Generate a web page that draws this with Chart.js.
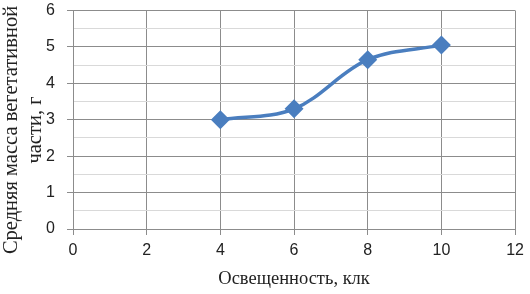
<!DOCTYPE html>
<html>
<head>
<meta charset="utf-8">
<script src="https://cdn.jsdelivr.net/npm/chart.js@4"></script>
<style>
  html, body { margin: 0; padding: 0; background: #fff; }
  #wrap { width: 530px; height: 294px; }
</style>
</head>
<body>
<div id="wrap"><canvas id="chart" width="530" height="294"></canvas></div>
<script>
// данные с графика
const osveshennost = [4, 6, 8, 10];          // клк
const massa = [3.0, 3.3, 4.65, 5.05];         // г
const xTitle = "Освещенность, клк";
// хвостовые пробелы сдвигают подпись чуть вниз, как в оригинале
const yTitle = ["Средняя масса вегетативной\u00a0\u00a0\u00a0\u00a0", "части, г\u00a0\u00a0\u00a0\u00a0"];

const lineColor = '#4a7ebf';
const majorGrid = '#8c8c8c';
const minorGrid = '#d9d9d9';

const ctx = document.getElementById('chart').getContext('2d');
new Chart(ctx, {
  type: 'scatter',
  data: {
    datasets: [{
      data: osveshennost.map((x, i) => ({ x: x, y: massa[i] })),
      showLine: true,
      borderColor: lineColor,
      backgroundColor: lineColor,
      borderWidth: 3.5,
      pointStyle: 'rectRot',
      pointRadius: 7,
      pointHoverRadius: 7,
      tension: 0.35
    }]
  },
  options: {
    responsive: false,
    animation: false,
    layout: { padding: { top: 3, right: 13, left: 0, bottom: 0 } },
    plugins: { legend: { display: false }, tooltip: { enabled: false } },
    scales: {
      x: {
        type: 'linear',
        min: 0, max: 12,
        ticks: { stepSize: 2, color: '#222', font: { family: 'Liberation Sans', size: 16 }, padding: 6 },
        grid: { color: majorGrid, tickLength: 6, tickColor: majorGrid },
        border: { color: majorGrid },
        title: { display: true, text: xTitle, color: '#222', font: { family: 'Liberation Serif', size: 18.5 }, padding: { top: 2 } },
        afterFit: (s) => { s.height = 65; }
      },
      y: {
        min: 0, max: 6,
        ticks: {
          stepSize: 0.5,
          autoSkip: false,
          color: '#222',
          font: { family: 'Liberation Sans', size: 16, lineHeight: 0.5 },
          padding: 4,
          // en-space справа — отодвигает цифру от оси
          callback: (v) => Number.isInteger(v) ? v + '\u2002' : ''
        },
        grid: {
          color: (c) => Number.isInteger(c.tick.value) ? majorGrid : minorGrid,
          tickColor: (c) => Number.isInteger(c.tick.value) ? majorGrid : 'rgba(0,0,0,0)',
          tickLength: 6
        },
        border: { color: majorGrid },
        title: { display: true, text: yTitle, color: '#222', font: { family: 'Liberation Serif', size: 20.5, lineHeight: 1.15 }, padding: { top: 0, bottom: 0 } },
        afterFit: (s) => { s.width = 73; }
      }
    }
  }
});
</script>
</body>
</html>
